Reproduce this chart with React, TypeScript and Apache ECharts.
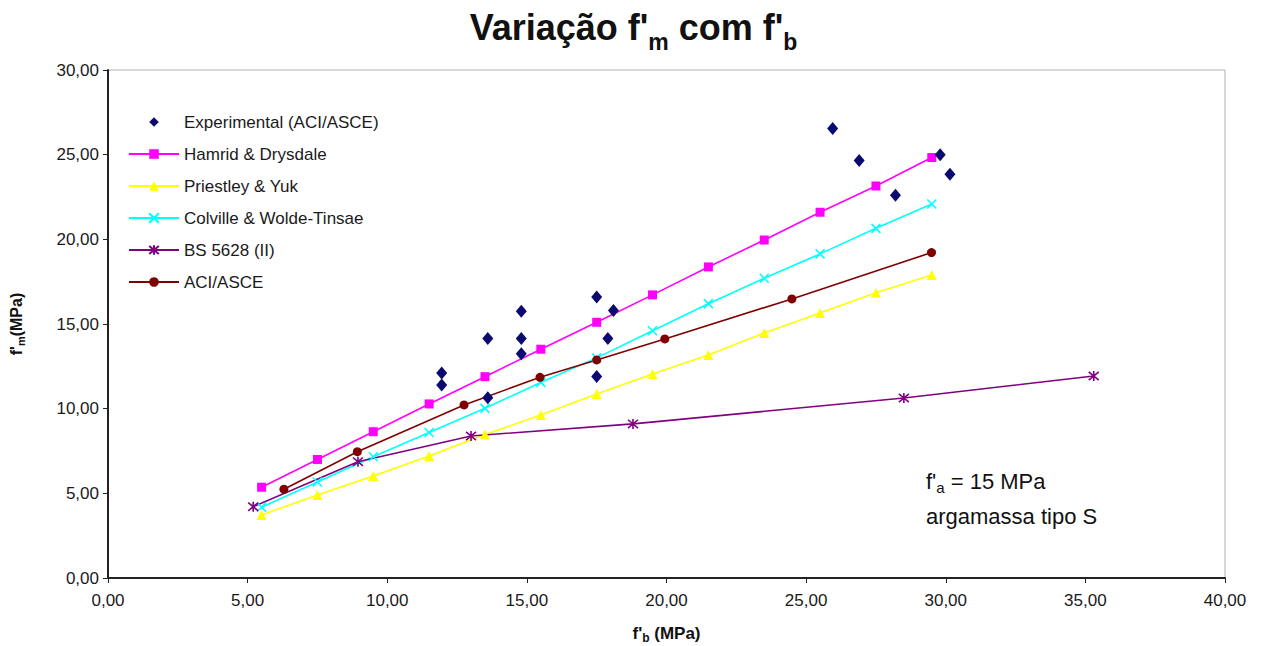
import React, { useEffect, useRef } from "react";
import * as echarts from "echarts";

// f'b (MPa) / f'm (MPa) pairs for each model curve
const hamridX = [5.5, 7.5, 9.5, 11.5, 13.5, 15.5, 17.5, 19.5, 21.5, 23.5, 25.5, 27.5, 29.5];
const hamridY = [5.36, 7.0, 8.64, 10.28, 11.89, 13.51, 15.1, 16.72, 18.37, 19.96, 21.6, 23.15, 24.83];

const priestleyX = [5.5, 7.5, 9.5, 11.5, 13.5, 15.5, 17.5, 19.5, 21.5, 23.5, 25.5, 27.5, 29.5];
const priestleyY = [3.72, 4.9, 6.02, 7.2, 8.47, 9.63, 10.87, 12.05, 13.17, 14.47, 15.65, 16.85, 17.9];

const colvilleX = [5.5, 7.5, 9.5, 11.5, 13.5, 15.5, 17.5, 19.5, 21.5, 23.5, 25.5, 27.5, 29.5];
const colvilleY = [4.18, 5.67, 7.16, 8.59, 10.02, 11.55, 13.0, 14.6, 16.2, 17.7, 19.14, 20.65, 22.09];

const bsX = [5.2, 8.95, 13.0, 18.8, 28.5, 35.3];
const bsY = [4.21, 6.87, 8.39, 9.1, 10.63, 11.93];

const aciX = [6.3, 8.93, 12.75, 15.47, 17.5, 19.94, 24.49, 29.49];
const aciY = [5.24, 7.46, 10.22, 11.85, 12.88, 14.12, 16.48, 19.22];

// Experimental results (ACI/ASCE)
const expX = [11.95, 11.95, 13.6, 13.6, 14.8, 14.8, 14.8, 17.5, 17.5, 18.1, 17.9, 25.95, 26.9, 28.2, 29.8, 30.15];
const expY = [12.1, 11.4, 14.15, 10.65, 15.75, 14.15, 13.25, 16.6, 11.9, 15.8, 14.15, 26.55, 24.65, 22.6, 25.0, 23.85];

const seriesNames = [
  "Experimental (ACI/ASCE)",
  "Hamrid & Drysdale",
  "Priestley & Yuk",
  "Colville & Wolde-Tinsae",
  "BS 5628 (II)",
  "ACI/ASCE",
];

const xTicks = { min: 0, max: 40, interval: 5 };
const yTicks = { min: 0, max: 30, interval: 5 };

const FONT = "'Liberation Sans', Arial, Helvetica, sans-serif";

const pairs = (xs: number[], ys: number[]) => xs.map((x, i) => [x, ys[i]]);
const fmt = (v: number) => v.toFixed(2).replace(".", ",");

const CROSS = "path://M0,0L10,10M10,0L0,10";
const STAR = "path://M0,0L10,10M10,0L0,10M5,-1L5,11";

export default function App() {
  const ref = useRef<HTMLDivElement>(null);

  useEffect(() => {
    if (!ref.current) return;
    const chart = echarts.init(ref.current, undefined, { renderer: "svg" });

    const lineSeries = (
      name: string,
      xs: number[],
      ys: number[],
      color: string,
      symbol: string,
      symbolSize: number | number[],
      stroke = false
    ) => ({
      name,
      type: "line",
      data: pairs(xs, ys),
      symbol,
      symbolSize,
      showSymbol: true,
      lineStyle: { color, width: 1.6 },
      itemStyle: stroke
        ? { color: "rgba(0,0,0,0)", borderColor: color, borderWidth: 1.6 }
        : { color, borderWidth: 0 },
      z: 2,
    });

    chart.setOption({
      animation: false,
      backgroundColor: "#ffffff",
      textStyle: { fontFamily: FONT },
      title: {
        text: "{a|Variação f'}{s|m}{a| com f'}{s|b}",
        left: "center",
        top: 4,
        textStyle: {
          rich: {
            a: {
              fontFamily: FONT,
              fontSize: 36,
              fontWeight: "bold",
              color: "#111",
              lineHeight: 40,
              verticalAlign: "top",
            },
            s: {
              fontFamily: FONT,
              fontSize: 23,
              fontWeight: "bold",
              color: "#111",
              lineHeight: 23,
              verticalAlign: "top",
              padding: [21, 0, 0, 0],
            },
          },
        },
      },
      legend: {
        data: seriesNames,
        orient: "vertical",
        left: 128,
        top: 113,
        padding: 0,
        itemWidth: 50,
        itemHeight: 12,
        itemGap: 14,
        textStyle: { fontFamily: FONT, fontSize: 17, color: "#1a1a1a", lineHeight: 18 },
      },
      grid: {
        left: 108,
        right: 42,
        top: 70,
        bottom: 68,
        outerBoundsMode: "none",
        containLabel: false,
        show: true,
        borderColor: "#b0b0b0",
        borderWidth: 1,
        backgroundColor: "transparent",
      },
      xAxis: {
        type: "value",
        ...xTicks,
        name: "f'{s|b} (MPa)",
        nameLocation: "middle",
        nameGap: 44,
        nameTextStyle: {
          fontFamily: FONT,
          fontSize: 17,
          fontWeight: "bold",
          color: "#111",
          rich: {
            s: {
              fontFamily: FONT,
              fontSize: 12,
              fontWeight: "bold",
              color: "#111",
              padding: [10, 0, 0, 0],
            },
          },
        },
        axisLine: { show: true, onZero: false, lineStyle: { color: "#222", width: 2 } },
        axisTick: { show: true, length: 5, lineStyle: { color: "#222", width: 1 } },
        splitLine: { show: false },
        axisLabel: { formatter: fmt, fontFamily: FONT, fontSize: 17, color: "#1a1a1a", margin: 14 },
      },
      yAxis: {
        type: "value",
        ...yTicks,
        name: "f'{s|m}(MPa)",
        nameLocation: "middle",
        nameGap: 82,
        nameRotate: 90,
        nameTextStyle: {
          fontFamily: FONT,
          fontSize: 16,
          fontWeight: "bold",
          color: "#111",
          rich: {
            s: {
              fontFamily: FONT,
              fontSize: 11,
              fontWeight: "bold",
              color: "#111",
              padding: [9, 0, 0, 0],
            },
          },
        },
        axisLine: { show: true, onZero: false, lineStyle: { color: "#222", width: 2 } },
        axisTick: { show: true, length: 5, lineStyle: { color: "#222", width: 1 } },
        splitLine: { show: false },
        axisLabel: { formatter: fmt, fontFamily: FONT, fontSize: 17, color: "#1a1a1a", margin: 9 },
      },
      graphic: [
        {
          type: "text",
          left: 926,
          top: 470,
          style: {
            text: "f'{s|a} = 15 MPa",
            font: `22px ${FONT}`,
            fill: "#111",
            rich: {
              s: { fontFamily: FONT, fontSize: 15, fill: "#111", padding: [12, 0, 0, 0] },
            },
          },
        },
        {
          type: "text",
          left: 926,
          top: 505,
          style: { text: "argamassa tipo S", font: `22px ${FONT}`, fill: "#111" },
        },
      ],
      series: [
        lineSeries(seriesNames[1], hamridX, hamridY, "#ff00ff", "rect", 9),
        lineSeries(seriesNames[2], priestleyX, priestleyY, "#ffff00", "triangle", 10),
        lineSeries(seriesNames[3], colvilleX, colvilleY, "#00ffff", CROSS, 9, true),
        lineSeries(seriesNames[4], bsX, bsY, "#800080", STAR, 10, true),
        lineSeries(seriesNames[5], aciX, aciY, "#800000", "circle", 9),
        {
          // markers only: the connecting line is hidden
          name: seriesNames[0],
          type: "line",
          data: pairs(expX, expY),
          symbol: "diamond",
          symbolSize: [11, 13],
          showSymbol: true,
          lineStyle: { opacity: 0, width: 0 },
          itemStyle: { color: "#0a0a70" },
          z: 3,
        },
      ],
    });

    return () => chart.dispose();
  }, []);

  return (
    <div
      ref={ref}
      style={{ position: "absolute", left: 0, top: 0, width: 1267, height: 646, overflow: "hidden" }}
    />
  );
}
